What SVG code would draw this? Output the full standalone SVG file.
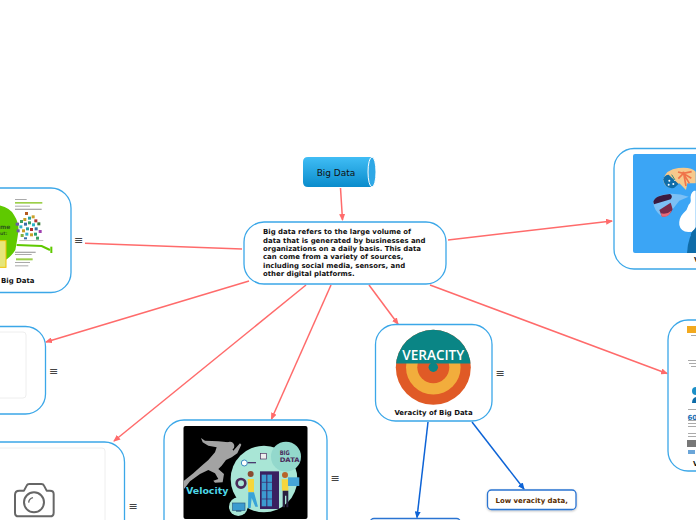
<svg xmlns="http://www.w3.org/2000/svg" width="696" height="520" viewBox="0 0 696 520">
<style>
.n{fill:#fff;stroke:#3ba7e8;stroke-width:1.3}
.c{fill:none;stroke:#ff6b6b;stroke-width:1.5}
.b{fill:none;stroke:#0d63d6;stroke-width:1.5}
.t{font-family:"DejaVu Sans",sans-serif;font-weight:bold;font-size:6.95px;fill:#111}
.m{font-family:"DejaVu Sans",sans-serif;font-size:11px;fill:#444}
.g{fill:#fff;stroke:#eee;stroke-width:1}
.s{fill:#fff;stroke:#2a74d2;stroke-width:1.3}
.l{fill:#aaa}
</style>
<defs>
<linearGradient id="cy" x1="0" y1="0" x2="0" y2="1"><stop offset="0" stop-color="#40bdf5"/><stop offset="1" stop-color="#0a8ccc"/></linearGradient>
<marker id="ar" markerWidth="7" markerHeight="6" refX="6" refY="3" orient="auto" markerUnits="userSpaceOnUse"><path d="M0 0L7 3L0 6Z" fill="#ff6b6b"/></marker>
<marker id="ab" markerWidth="7" markerHeight="6" refX="6" refY="3" orient="auto" markerUnits="userSpaceOnUse"><path d="M0 0L7 3L0 6Z" fill="#0d63d6"/></marker>
<clipPath id="vc"><circle cx="433.3" cy="367.3" r="37.5"/></clipPath>
<clipPath id="vi"><rect x="183.5" y="426" width="124" height="93" rx="2"/></clipPath>
<filter id="sh" x="-10%" y="-20%" width="120%" height="150%"><feDropShadow dx="0" dy="1" stdDeviation="1" flood-color="#000" flood-opacity=".25"/></filter>
</defs>

<g id="connectors">
<path class="c" d="M340.5 188L342.5 220" marker-end="url(#ar)"/>
<path class="c" d="M448 240L612 221" marker-end="url(#ar)"/>
<path class="c" d="M242 249L85 243.3"/>
<path class="c" d="M249 281L46 342" marker-end="url(#ar)"/>
<path class="c" d="M306 285L114 441" marker-end="url(#ar)"/>
<path class="c" d="M331 285L271.500 419" marker-end="url(#ar)"/>
<path class="c" d="M369 285L398 324" marker-end="url(#ar)"/>
<path class="c" d="M430 285L667 373.500" marker-end="url(#ar)"/>
<path class="b" d="M428 422L417 517.500" marker-end="url(#ab)"/>
<path class="b" d="M472 422L524 489" marker-end="url(#ab)"/>
</g>

<g id="node-root">
<path d="M308 157H372V187H308Q303 187 303 182V162Q303 157 308 157Z" fill="url(#cy)"/>
<ellipse cx="372" cy="172" rx="4" ry="15" fill="#2fa8e6" stroke="#fff" stroke-width="1"/>
<text x="336" y="176" text-anchor="middle" font-family="'DejaVu Sans',sans-serif" font-size="9px" fill="#111">Big Data</text>
</g>

<g id="node-main">
<rect class="n" x="244" y="222" width="202" height="62" rx="20"/>
<text class="t" x="263" y="234">Big data refers to the large volume of</text>
<text class="t" x="263" y="242.600">data that is generated by businesses and</text>
<text class="t" x="263" y="251">organizations on a daily basis. This data</text>
<text class="t" x="263" y="259.400">can come from a variety of sources,</text>
<text class="t" x="263" y="267.800">including social media, sensors, and</text>
<text class="t" x="263" y="276.300">other digital platforms.</text>
</g>

<g id="node-bigdata-left">
<rect class="n" x="-60" y="188" width="131" height="104.500" rx="20"/>
<g transform="translate(0 190) scale(.3333)">
<path d="M-30 43Q25 45 42 75Q58 100 55 125Q50 160 46 180Q25 215 -30 232Z" fill="#5fc900"/>
<path d="M50 165L125 168L150 180" fill="none" stroke="#5fc900" stroke-width="6"/>
<rect x="151" y="170" width="6" height="19" fill="#5fc900"/>
<rect x="-5" y="152" width="23" height="80" fill="#e6e67a" stroke="#f0c000" stroke-width="3"/>
<text x="0" y="117" font-family="'DejaVu Sans',sans-serif" font-weight="bold" font-size="18px" fill="#2e5c1a">me</text>
<text x="0" y="134" font-family="'DejaVu Sans',sans-serif" font-weight="bold" font-size="14px" fill="#2e5c1a">ut:</text>
<g class="l">
<rect x="45" y="27" width="35" height="3"/><rect x="45" y="47" width="45" height="3"/><rect x="45" y="56" width="80" height="4"/>
<rect x="45" y="185" width="62" height="4"/><rect x="45" y="192" width="50" height="3"/><rect x="45" y="216" width="45" height="3"/><rect x="45" y="226" width="40" height="3"/>
<rect x="58" y="150" width="72" height="2"/>
</g>
<rect x="45" y="36" width="82" height="5" fill="#9ccf4a"/>
<rect x="48" y="205" width="50" height="6" fill="#9ccf4a"/>
<g>
<rect x="47" y="98" width="10" height="9" fill="#6a5aa5"/><rect x="60" y="90" width="9" height="9" fill="#3aa060"/><rect x="75" y="66" width="9" height="9" fill="#b55a1e"/>
<rect x="70" y="84" width="9" height="9" fill="#c8a028"/><rect x="84" y="80" width="9" height="9" fill="#28a0a0"/><rect x="95" y="76" width="9" height="9" fill="#c8a028"/>
<rect x="103" y="88" width="9" height="9" fill="#b03030"/><rect x="112" y="97" width="9" height="9" fill="#3a7a3a"/><rect x="58" y="106" width="9" height="9" fill="#2fb0c8"/>
<rect x="72" y="98" width="9" height="9" fill="#3a6ea5"/><rect x="84" y="94" width="9" height="9" fill="#3aa060"/><rect x="96" y="100" width="9" height="9" fill="#2fb0c8"/>
<rect x="50" y="118" width="9" height="9" fill="#6a5aa5"/><rect x="66" y="118" width="9" height="9" fill="#c8a028"/><rect x="78" y="112" width="9" height="9" fill="#28a0a0"/>
<rect x="90" y="114" width="9" height="9" fill="#b03030"/><rect x="104" y="112" width="9" height="9" fill="#3a6ea5"/><rect x="116" y="120" width="9" height="9" fill="#a040b0"/>
<rect x="62" y="132" width="9" height="9" fill="#80b040"/><rect x="76" y="128" width="9" height="9" fill="#2fb0c8"/><rect x="90" y="130" width="9" height="9" fill="#c8a028"/>
<rect x="102" y="128" width="9" height="9" fill="#28a070"/><rect x="108" y="140" width="9" height="9" fill="#3aa060"/><rect x="72" y="142" width="9" height="6" fill="#3a6ea5"/>
</g>
</g>
<text class="t" x="1" y="283">Big Data</text>
</g>

<g id="node-left-2">
<rect class="n" x="-60" y="326.500" width="105.500" height="87.500" rx="20"/>
<rect class="g" x="-40" y="332" width="66" height="66" rx="3"/>
</g>

<g id="node-camera">
<rect class="n" x="-60" y="442" width="184.500" height="120" rx="20"/>
<rect class="g" x="-40" y="448" width="145" height="120" rx="3"/>
<g transform="translate(0 320) scale(.3333)" fill="none" stroke="#666" stroke-width="6" stroke-linejoin="round">
<path d="M58 512H72L80 497Q82 492 88 492H124Q130 492 132 497L140 512H150Q161 512 161 522V578Q161 589 150 589H56Q45 589 45 578V525Q45 512 58 512Z"/>
<circle cx="102" cy="547" r="30"/>
<path d="M86 548Q87 536 99 533" stroke-width="4"/>
</g>
</g>

<g id="node-velocity">
<rect class="n" x="164" y="420" width="163" height="140" rx="20"/>
<rect x="183.500" y="426" width="124" height="93" rx="2" fill="#000"/>
<g clip-path="url(#vi)"><g transform="translate(180 424) scale(.3333)">
<g fill="#a3a3a3">
<circle cx="150" cy="66" r="13"/>
<path d="M63 42L75 50L115 52L145 55L160 80L180 58L184 62L172 88L155 100L138 108L125 125L115 135L132 150L128 175L105 176L100 170L115 165L105 148L85 138L60 150L30 172L12 195L10 172L40 148L65 125L85 108L105 85L110 70L85 65L68 55Z"/>
</g>
<circle cx="252" cy="165" r="100" fill="#a9e6d6"/>
<circle cx="318" cy="98" r="45" fill="#93d8cc"/>
<circle cx="175" cy="248" r="28" fill="#a9e6d6"/>
<g font-family="'DejaVu Sans',sans-serif" font-weight="bold" font-size="19px" fill="#4a2a5a">
<text x="299" y="94" textLength="30" lengthAdjust="spacingAndGlyphs">BIG</text>
<text x="299" y="114" textLength="60" lengthAdjust="spacingAndGlyphs">DATA</text>
</g>
<rect x="240" y="142" width="57" height="113" fill="#3a2060"/>
<rect x="245" y="152" width="14" height="95" fill="#3c9bd0"/><rect x="262" y="152" width="14" height="95" fill="#3c9bd0"/>
<path d="M245 175H276M245 200H276M245 225H276" stroke="#3a2060" stroke-width="2"/>
<circle cx="183" cy="178" r="13" fill="none" stroke="#4a2a5a" stroke-width="8"/>
<circle cx="193" cy="117" r="9" fill="#fff" stroke="#3a8ac0" stroke-width="3"/><rect x="203" y="114" width="25" height="4" fill="#4a3a70"/>
<rect x="242" y="88" width="17" height="17" fill="#eee" stroke="#4a2a5a" stroke-width="2"/>
<circle cx="212" cy="150" r="9" fill="#8a4a30"/><path d="M203 165H222V205H205Z" fill="#f5d63d"/><path d="M205 205H222L234 248H226L215 222L212 252H204Z" fill="#39a4d8"/>
<circle cx="315" cy="153" r="9" fill="#b8642a"/><path d="M305 166H325V200H306Z" fill="#f5d63d"/><path d="M308 200H325V250H319V215H315V250H308Z" fill="#2a2040"/>
<rect x="324" y="160" width="34" height="26" fill="#45a5d8"/>
<rect x="158" y="237" width="37" height="22" fill="#3c9bd0" stroke="#2a5a80" stroke-width="2"/><rect x="168" y="259" width="16" height="4" fill="#2a5a80"/>
<text x="18" y="210" font-family="'DejaVu Sans',sans-serif" font-weight="bold" font-size="26px" fill="#4fd8e8" textLength="127" lengthAdjust="spacingAndGlyphs">Velocity</text>
</g></g>
</g>

<g id="node-veracity">
<rect class="n" x="375.500" y="324.500" width="116.500" height="96.500" rx="20"/>
<g clip-path="url(#vc)">
<rect x="395" y="329" width="78" height="78" fill="#e05a26"/>
<circle cx="433.300" cy="367.300" r="27.300" fill="#f2ad3c"/>
<circle cx="433.300" cy="367.300" r="16" fill="#e05a26"/>
<rect x="395" y="329" width="78" height="34.500" fill="#0a8585"/>
<circle cx="433.300" cy="367.300" r="4.700" fill="#0a8585"/>
</g>
<text x="433.300" y="360" text-anchor="middle" font-family="'Open Sans',sans-serif" font-weight="600" font-size="14px" fill="#fff" textLength="62" lengthAdjust="spacingAndGlyphs">VERACITY</text>
<text class="t" x="433.500" y="414.500" text-anchor="middle">Veracity of Big Data</text>
</g>

<g id="node-low-veracity">
<rect class="s" x="487.500" y="490" width="88.500" height="19.500" rx="4" filter="url(#sh)"/>
<text class="t" x="495.500" y="503" style="fill:#5a2d00">Low veracity data,</text>
</g>

<g id="node-bottom">
<rect class="s" x="370" y="518.500" width="90.500" height="20" rx="4"/>
</g>

<g id="node-right-1">
<rect class="n" x="614" y="148.500" width="140" height="120.500" rx="20"/>
<rect x="633" y="154" width="80" height="99" rx="2" fill="#3ba5f5"/>
<g transform="translate(650 160) scale(.3333)">
<path d="M40 58Q48 28 85 24Q125 20 137 35V70L112 70L108 90L88 70L70 82Q42 88 40 58Z" fill="#f6c98c"/>
<path d="M40 58Q44 44 56 44L86 72L72 84Q44 88 40 58Z" fill="#0f6ca8"/>
<circle cx="58" cy="62" r="3" fill="#fff"/><circle cx="70" cy="72" r="3" fill="#fff"/><circle cx="56" cy="74" r="3" fill="#fff"/><circle cx="74" cy="60" r="2" fill="#fff"/>
<path d="M100 35L108 78M100 40L84 36M100 40L85 56M100 40L125 35M100 40L124 55M100 40L118 70" stroke="#f0744a" stroke-width="5" fill="none"/>
<path d="M65 44L75 60" stroke="#2d8a7a" stroke-width="3"/>
<path d="M10 125Q15 105 60 101Q90 100 116 110L88 122L68 148Q58 172 36 170Q10 150 10 125Z" fill="#7cc0f5"/>
<path d="M10 125Q15 106 60 102Q70 108 62 118L12 133Z" fill="#3a1a40"/>
<path d="M28 150L62 128L68 148Q58 172 36 170Z" fill="#7a2a4a"/>
<path d="M32 160Q50 165 64 152Q58 172 36 170Z" fill="#e86a78"/>
<path d="M132 92Q120 100 122 118Q124 128 116 134Q112 150 100 160Q86 175 88 195Q92 215 115 216L137 215V92Z" fill="#fff"/>
<path d="M137 208Q125 212 122 225H137Z" fill="#0f6ca8"/>
</g>
<path d="M696 227Q688 236 687 253H696Z" fill="#0f6ca8"/>
<text class="t" x="694" y="262">V</text>
</g>

<g id="node-right-2">
<rect class="n" x="668" y="320" width="140" height="151" rx="20"/>
<rect x="687" y="326" width="9" height="7" fill="#f2a91e"/>
<g class="l">
<rect x="691" y="335" width="5" height="1"/><rect x="688" y="360" width="8" height="1"/><rect x="689" y="363" width="7" height="1"/><rect x="691" y="366" width="5" height="1"/>
<rect x="688" y="409" width="8" height="1"/><rect x="688" y="420" width="8" height="1"/><rect x="688" y="423" width="8" height="1"/><rect x="688" y="426" width="8" height="1"/><rect x="688" y="433" width="8" height="1"/><rect x="688" y="436" width="8" height="1"/>
</g>
<circle cx="696" cy="391" r="4" fill="#1b8fc7"/>
<path d="M692 403Q692 398 696 397V403Z" fill="#0f6ca8"/>
<text x="687.500" y="420" font-family="'DejaVu Sans',sans-serif" font-weight="bold" font-size="7px" fill="#1b6fb5">60</text>
<rect x="687" y="440" width="9" height="7" fill="#777"/>
<rect x="688" y="450" width="7" height="4" fill="#6aa5d8"/>
<text class="t" x="693" y="466">V</text>
</g>

<g id="menus">
<text class="m" x="78.500" y="244" text-anchor="middle">≡</text>
<text class="m" x="53.500" y="375" text-anchor="middle">≡</text>
<text class="m" x="133" y="510" text-anchor="middle">≡</text>
<text class="m" x="335" y="482" text-anchor="middle">≡</text>
<text class="m" x="500" y="377" text-anchor="middle">≡</text>
</g>
</svg>
